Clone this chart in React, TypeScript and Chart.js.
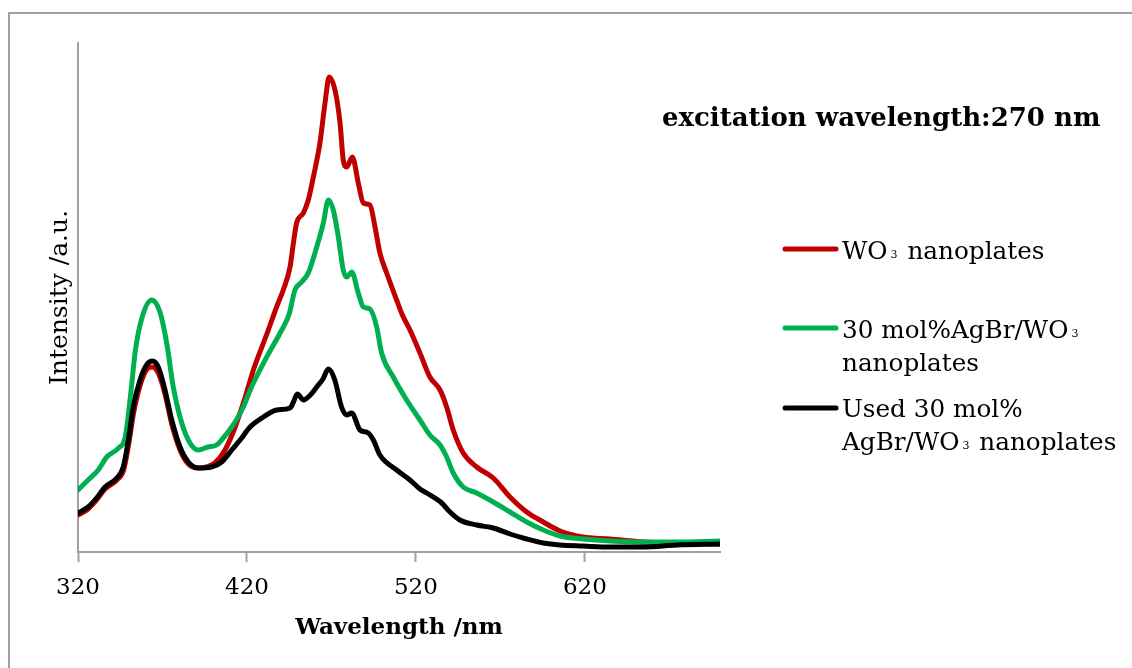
import React, { useEffect, useRef } from "react";
import { Chart, registerables } from "chart.js";

Chart.register(...registerables);

// ---------- data (wavelength in nm, intensity in a.u.) ----------
const xTicks = [320, 420, 520, 620];

const wo3Wavelength = [320, 326, 331, 336, 343, 347, 350, 353, 357, 361, 364, 367.5, 371.5, 375.5, 380.4, 385.3, 391, 396, 401, 407, 413, 419, 424, 432, 438, 441.5, 445.5, 447.5, 449.4, 453.4, 456.3, 459.3, 463.2, 466.2, 468.7, 472.1, 475.1, 477, 479, 482.4, 485.9, 488.9, 492.8, 495.8, 498.7, 502.7, 508.6, 512, 516.5, 522.4, 528.3, 534.3, 538.2, 542.1, 548, 556, 565.8, 575.7, 585.6, 595.4, 605.3, 619, 634.9, 654.6, 674.4, 700];
const wo3Intensity = [37, 43, 52, 63, 72, 82, 108, 140, 168, 183, 185, 179, 158, 128, 102, 88, 84, 85, 89, 102, 125, 155, 183, 219, 247, 262, 285, 309, 329, 339, 352, 375, 409, 449, 475, 462, 429, 392, 385, 395, 369, 349, 347, 325, 299, 279, 252, 237, 222, 199, 175, 162, 145, 122, 99, 85, 74, 55, 40, 30, 21, 15, 13, 10, 9, 8];

const agbrWavelength = [320, 326, 332, 337, 344, 348, 351, 354, 358, 363.6, 368.5, 372.5, 376.4, 381.4, 386.3, 391, 397, 402, 406, 411, 417, 423, 431.7, 439.6, 445, 448.4, 452.4, 456.3, 461.3, 465.2, 468.2, 471.1, 474.1, 477, 479, 482, 485.9, 488.9, 492.8, 496.8, 499.7, 506.6, 514.5, 522.4, 528.3, 534.3, 538.2, 542.1, 548, 556, 565.8, 575.7, 585.6, 595.4, 605.3, 619, 634.9, 654.6, 674.4, 700];
const agbrIntensity = [62, 72, 82, 95, 104, 115, 155, 202, 235, 252, 240, 209, 165, 129, 109, 102, 105, 107, 114, 125, 142, 166, 195, 219, 238, 262, 270, 279, 305, 329, 352, 342, 315, 282, 275, 280, 259, 245, 243, 225, 199, 175, 152, 132, 117, 107, 95, 79, 65, 59, 50, 40, 30, 22, 16, 13, 11, 10, 10, 11];

const usedWavelength = [320, 326, 331, 336, 343, 346.8, 349.8, 352.7, 356.7, 360.6, 364, 367.5, 371.5, 375.5, 380.4, 385.3, 391.2, 399, 405, 411, 416.9, 421.8, 429.7, 437.6, 445.5, 447.5, 449.8, 453.5, 457, 461.3, 465, 468.2, 472, 476, 479, 482, 486.9, 491.8, 494.8, 498.7, 508.6, 516.5, 522.4, 526.4, 535.3, 540.2, 546, 556, 565.8, 575.7, 585.6, 595.4, 605.3, 619, 634.9, 654.6, 674.4, 700];
const usedIntensity = [39, 45, 54, 65, 74, 85, 112, 145, 172, 187, 191, 185, 162, 132, 105, 90, 84, 85, 90, 102, 114, 125, 135, 142, 144, 150, 158, 152, 156, 165, 173, 183, 172, 145, 137, 139, 122, 119, 112, 97, 82, 72, 63, 59, 49, 40, 32, 27, 24, 18, 13, 9, 7, 6, 5, 5, 7, 8];

const seriesNames = ["WO3 nanoplates", "30 mol%AgBr/WO3 nanoplates", "Used 30 mol% AgBr/WO3 nanoplates"];
const seriesColors = ["#C00000", "#00B050", "#000000"];

// legend text, split into lines; each line is a list of [text, isSubscript]
const legendLines: [string, boolean][][][] = [
  [[["WO", false], ["3", true], [" nanoplates", false]]],
  [[["30 mol%AgBr/WO", false], ["3", true]], [["nanoplates", false]]],
  [[["Used 30 mol%", false]], [["AgBr/WO", false], ["3", true], [" nanoplates", false]]],
];

const annotationText = "excitation wavelength:270 nm";
const xTitle = "Wavelength /nm";
const yTitle = "Intensity /a.u.";

const FONT = "'DejaVu Serif', serif";

const zip = (xs: number[], ys: number[]) => xs.map((x, i) => ({ x, y: ys[i] }));

const overlayPlugin = {
  id: "overlay",
  beforeDraw(chart: any) {
    const ctx = chart.ctx;
    ctx.save();
    ctx.strokeStyle = "#a0a0a0";
    ctx.lineWidth = 2;
    ctx.beginPath();
    ctx.moveTo(9, 700);
    ctx.lineTo(9, 13);
    ctx.lineTo(1200, 13);
    ctx.stroke();
    ctx.restore();
  },
  afterDraw(chart: any) {
    const ctx = chart.ctx;
    ctx.save();
    ctx.fillStyle = "#000";
    ctx.textBaseline = "alphabetic";
    ctx.textAlign = "left";
    // annotation
    ctx.font = `bold 26px ${FONT}`;
    ctx.fillText(annotationText, 662, 126);

    // legend
    const lineY = [249, 328, 408];
    const firstBaseline = [259, 338, 417];
    const lineGap = 33;
    const textX = 842;
    for (let i = 0; i < legendLines.length; i++) {
      ctx.strokeStyle = seriesColors[i];
      ctx.lineWidth = 5;
      ctx.lineCap = "round";
      ctx.beginPath();
      ctx.moveTo(785, lineY[i]);
      ctx.lineTo(836, lineY[i]);
      ctx.stroke();
      legendLines[i].forEach((parts, li) => {
        let x = textX;
        const base = firstBaseline[i] + li * lineGap;
        for (const [t, sub] of parts) {
          if (sub) {
            ctx.font = `11px ${FONT}`;
            x += 3;
            ctx.fillText(t, x, base - 1);
            x += ctx.measureText(t).width + 2;
          } else {
            ctx.font = `24.7px ${FONT}`;
            ctx.fillText(t, x, base);
            x += ctx.measureText(t).width;
          }
        }
      });
    }
    ctx.restore();
  },
};

export default function App() {
  const canvasRef = useRef<HTMLCanvasElement | null>(null);

  useEffect(() => {
    if (!canvasRef.current) return;
    const mk = (i: number, xs: number[], ys: number[], order: number) => ({
      label: seriesNames[i],
      data: zip(xs, ys),
      borderColor: seriesColors[i],
      backgroundColor: seriesColors[i],
      borderWidth: 5,
      pointRadius: 0,
      cubicInterpolationMode: "monotone" as const,
      borderJoinStyle: "round" as const,
      borderCapStyle: "round" as const,
      fill: false,
      order,
    });
    const chart = new Chart(canvasRef.current, {
      type: "line",
      data: {
        datasets: [
          mk(0, wo3Wavelength, wo3Intensity, 3),
          mk(1, agbrWavelength, agbrIntensity, 2),
          mk(2, usedWavelength, usedIntensity, 1),
        ],
      },
      options: {
        responsive: true,
        maintainAspectRatio: false,
        animation: false,
        layout: { padding: { left: 0, top: 43, right: 412, bottom: 0 } },
        plugins: { legend: { display: false }, tooltip: { enabled: false } },
        scales: {
          x: {
            type: "linear",
            position: "bottom",
            min: 320,
            max: 700,
            afterBuildTicks: (s: any) => {
              s.ticks = xTicks.map((v) => ({ value: v }));
            },
            afterFit: (s: any) => {
              s.height = 116;
            },
            ticks: {
              color: "#000",
              font: { family: FONT, size: 23 },
              padding: 12,
              maxRotation: 0,
              autoSkip: false,
            },
            grid: {
              display: true,
              drawOnChartArea: false,
              drawTicks: true,
              tickLength: 10,
              tickColor: "#a0a0a0",
              tickWidth: 2,
            },
            border: { display: true, color: "#a0a0a0", width: 2 },
            title: {
              display: true,
              text: xTitle,
              color: "#000",
              font: { family: FONT, size: 23, weight: "bold" },
              padding: { top: 0, bottom: 26 },
            },
          },
          y: {
            type: "linear",
            min: 0,
            max: 509,
            afterFit: (s: any) => {
              s.width = 78;
            },
            ticks: { display: false },
            grid: { display: false },
            border: { display: true, color: "#a0a0a0", width: 2 },
            title: {
              display: true,
              text: yTitle,
              color: "#000",
              font: { family: FONT, size: 25 },
              padding: { top: 45, bottom: 0 },
            },
          },
        },
      },
      plugins: [overlayPlugin],
    });
    return () => chart.destroy();
  }, []);

  return (
    <div style={{ position: "fixed", left: 0, top: 0, width: 1132, height: 668, background: "#fff" }}>
      <canvas ref={canvasRef} />
    </div>
  );
}
